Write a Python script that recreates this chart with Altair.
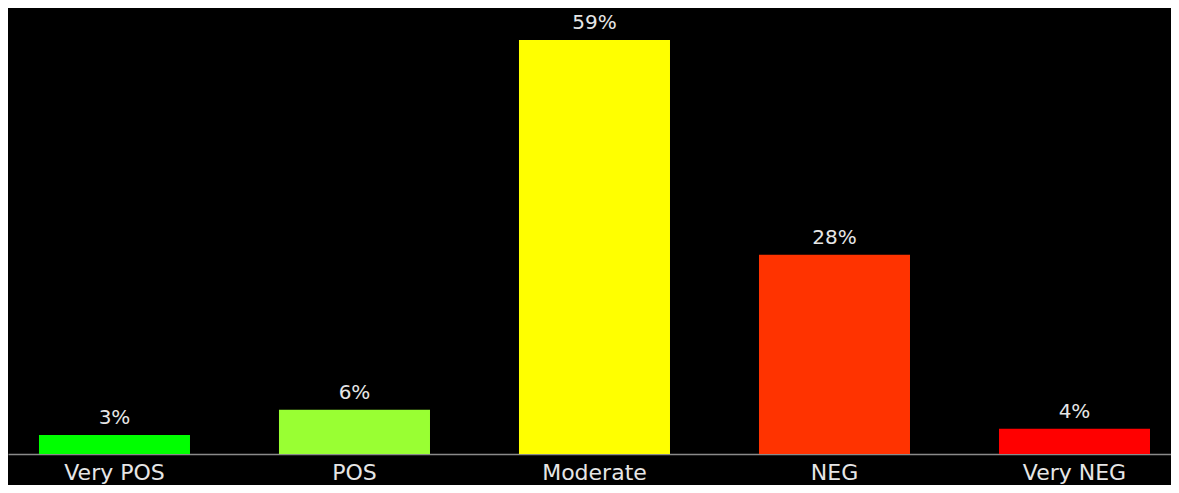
import altair as alt
import pandas as pd

categories = ["Very POS", "POS", "Moderate", "NEG", "Very NEG"]
values = [2.7, 6.3, 59.0, 28.4, 3.6]
labels = ["3%", "6%", "59%", "28%", "4%"]
colors = ["#00FF00", "#99FF33", "#FFFF00", "#FF3300", "#FF0000"]

df = pd.DataFrame({"cat": categories, "val": values, "lab": labels})

x = alt.X("cat:N", sort=categories,
          scale=alt.Scale(paddingInner=0.3708, paddingOuter=0.1083, align=0.596),
          axis=alt.Axis(title=None, labelAngle=0, ticks=False, labelPadding=8,
                        labelFont="DejaVu Sans", labelFontSize=22, labelColor="#e6e6e6",
                        domainColor="#8a8a8a", domainWidth=1.5))
y = alt.Y("val:Q", scale=alt.Scale(domain=[0, 63.55], nice=False, zero=True),
          axis=None)

bars = alt.Chart(df).mark_bar().encode(
    x=x, y=y,
    color=alt.Color("cat:N", scale=alt.Scale(domain=categories, range=colors), legend=None),
)

text = alt.Chart(df).mark_text(
    baseline="alphabetic", dy=-11, font="DejaVu Sans", fontSize=20, color="#e6e6e6"
).encode(x=alt.X("cat:N", sort=categories), y="val:Q", text="lab:N")

chart = (bars + text).properties(
    width=1163, height=446,
    autosize=alt.AutoSizeParams(type="none"),
    padding={"left": 0, "top": 0, "right": 0, "bottom": 31},
    background="black",
).configure_view(stroke=None)

chart.save("out.html", embed_options={"renderer": "svg", "actions": False})
